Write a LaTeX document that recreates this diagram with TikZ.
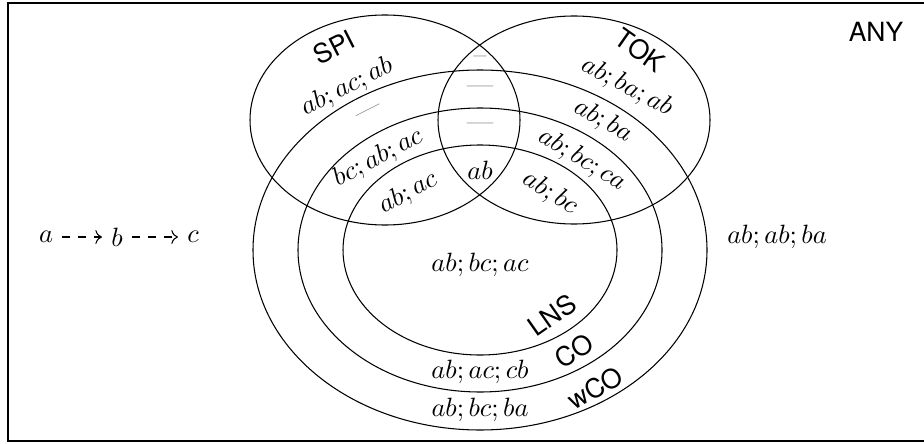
\documentclass[tikz,border=0pt]{standalone}
\usepackage{fontspec}
\setsansfont{TeX Gyre Heros}
\usepackage{tikz}
\usetikzlibrary{arrows.meta}
\usetikzlibrary{positioning}

\begin{document}
\begin{tikzpicture}[x=0.378pt, y=-0.378pt,
set/.style={font=\sffamily},
word/.style={inner sep=1pt},
none/.style={text=black!55, inner sep=1pt},
flow/.style={dashed, -{To}}]

\useasboundingbox (0,0) rectangle (924,443);
\draw[line width=0.8pt] (8,3) rectangle (940,441);

% the sets
\draw (385,120) ellipse [x radius=135, y radius=105];
\draw (574,120) ellipse [x radius=136, y radius=104];
\draw (480,250) ellipse [x radius=227, y radius=180];
\draw (480,250) ellipse [x radius=182, y radius=142];
\draw (480,250) ellipse [x radius=137, y radius=105];

\node[set] (any) at (876,32) {ANY};
\node[set, rotate=27] (spi) at (334,47) {SPI};
\node[set, rotate=-35] (tok) at (640,50) {TOK};
\node[set, rotate=35] (lns) at (552,315) {LNS};
\node[set, rotate=32] (co) at (574,351) {CO};
\node[set, rotate=30] (wco) at (595,388) {wCO};

% the words
\node[word, rotate=27] (w1) at (347,87) {$ab; ac; ab$};
\node[none, rotate=27] (w2) at (370,113) {---};
\node[word, rotate=28] (w3) at (378,158) {$bc; ab; ac$};
\node[word, rotate=29] (w4) at (408,193) {$ab; ac$};
\node[none] (w5) at (480,60) {--};
\node[none] (w6) at (480,90) {---};
\node[none] (w7) at (480,127) {---};
\node[word] (w8) at (480,170) {$ab$};
\node[word, rotate=-28] (w9) at (627,87) {$ab; ba; ab$};
\node[word, rotate=-29] (w10) at (603,121) {$ab; ba$};
\node[word, rotate=-31] (w11) at (582,160) {$ab; bc; ca$};
\node[word, rotate=-32] (w12) at (550,193) {$ab; bc$};
\node[word] (w13) at (480,265) {$ab; bc; ac$};
\node[word] (w14) at (480,372) {$ab; ac; cb$};
\node[word] (w15) at (480,410) {$ab; bc; ba$};
\node[word] (w16) at (777,237) {$ab; ab; ba$};

% the order
\node (a) at (46,237) {$a$};
\node (b) at (117,237) {$b$};
\node (c) at (193,237) {$c$};
\draw[flow] (a)--(b);
\draw[flow] (b)--(c);
%
\end{tikzpicture}
\end{document}
